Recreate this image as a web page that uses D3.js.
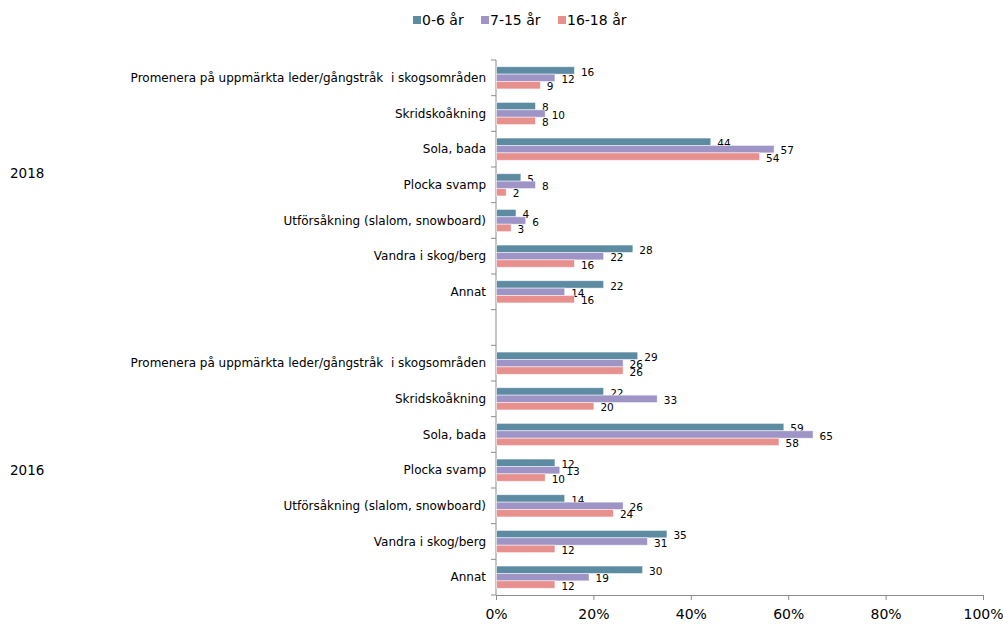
<!DOCTYPE html>
<html><head><meta charset="utf-8">
<script src="https://cdn.jsdelivr.net/npm/d3@7"></script>
<style>body{margin:0;background:#fff;}svg{display:block;font-family:"DejaVu Sans",Verdana,sans-serif;}</style>
</head><body>
<svg id="c" width="1003" height="626"></svg>
<script>
const series = ["0-6 år", "7-15 år", "16-18 år"];
const colors = ["#5d8ba2", "#9e95c6", "#e8908e"];
const activities = ["Promenera på uppmärkta leder/gångstråk\u00a0 i skogsområden", "Skridskoåkning", "Sola, bada", "Plocka svamp", "Utförsåkning (slalom, snowboard)", "Vandra i skog/berg", "Annat"];
const groups = ["2018", "2016"];
const values2018 = [[16,12,9],[8,10,8],[44,57,54],[5,8,2],[4,6,3],[28,22,16],[22,14,16]];
const values2016 = [[29,26,26],[22,33,20],[59,65,58],[12,13,10],[14,26,24],[35,31,12],[30,19,12]];
const xTicks = [0,20,40,60,80,100];

(function(){
const svg = d3.select("#c");
const slots = [];
activities.forEach((a,i)=>slots.push({g:0,name:a,vals:values2018[i],key:"a"+i}));
slots.push({g:-1,name:"",vals:null,key:"gap"});
activities.forEach((a,i)=>slots.push({g:1,name:a,vals:values2016[i],key:"b"+i}));

const pl=496, pr=983, pt=60, pb=595;
const x = d3.scaleLinear().domain([0,100]).range([pl,pr]);
const y = d3.scaleBand().domain(slots.map(s=>s.key)).range([pt,pb]).paddingInner(0).paddingOuter(0);
const bw = y.bandwidth();
const barH = 7.4;
const inner = d3.scaleBand().domain(series).range([-barH*1.5, barH*1.5]);

// x axis
const xa = svg.append("g").attr("transform",`translate(0,${pb})`)
  .call(d3.axisBottom(x).tickValues(xTicks).tickFormat(d=>d+"%").tickSize(5).tickPadding(9));
xa.select(".domain").attr("stroke","#8c8c8c");
xa.selectAll(".tick line").attr("stroke","#8c8c8c");
xa.selectAll(".tick text").attr("font-size","14px").attr("fill","#000").attr("font-family","DejaVu Sans, Verdana, sans-serif");

// y axis line + ticks at boundaries
svg.append("line").attr("x1",pl).attr("x2",pl).attr("y1",pt).attr("y2",pb).attr("stroke","#8c8c8c");
for(let i=0;i<=slots.length;i++){
  const yy = pt + i*bw;
  svg.append("line").attr("x1",pl-5).attr("x2",pl).attr("y1",yy).attr("y2",yy).attr("stroke","#8c8c8c");
}

// category labels
slots.filter(s=>s.g>=0).forEach(s=>{
  svg.append("text").attr("x",486).attr("y",y(s.key)+bw/2).attr("dy","0.35em")
    .attr("text-anchor","end").attr("font-size","12px").attr("fill","#000").text(s.name);
});

// group labels
const g18 = slots.filter(s=>s.g===0), g16 = slots.filter(s=>s.g===1);
svg.append("text").attr("x",10).attr("y",(y(g18[0].key)+y(g18[6].key)+bw)/2-12).attr("dy","0.35em").attr("font-size","13.5px").text(groups[0]);
svg.append("text").attr("x",10).attr("y",(y(g16[0].key)+y(g16[6].key)+bw)/2).attr("dy","0.35em").attr("font-size","13.5px").text(groups[1]);

// bars
slots.filter(s=>s.vals).forEach(s=>{
  const cy = y(s.key)+bw/2;
  s.vals.forEach((v,j)=>{
    const by = cy + inner(series[j]);
    svg.append("rect").attr("x",x(0)+0.5).attr("y",by).attr("width",x(v)-x(0)).attr("height",inner.bandwidth())
      .attr("fill",colors[j]).attr("stroke","#ffffff").attr("stroke-opacity",0.6).attr("stroke-width",0.8);
    svg.append("text").attr("x",x(v)+7).attr("y",by+inner.bandwidth()/2+1.5).attr("dy","0.35em")
      .attr("font-size","10.5px").attr("fill","#000").text(v);
  });
});

// legend
const legX=[413,481,558];
series.forEach((s,i)=>{
  svg.append("rect").attr("x",legX[i]).attr("y",16).attr("width",8).attr("height",8).attr("fill",colors[i]);
  svg.append("text").attr("x",legX[i]+9).attr("y",20).attr("dy","0.35em").attr("font-size","14px").text(s);
});
})();
</script>
</body></html>
